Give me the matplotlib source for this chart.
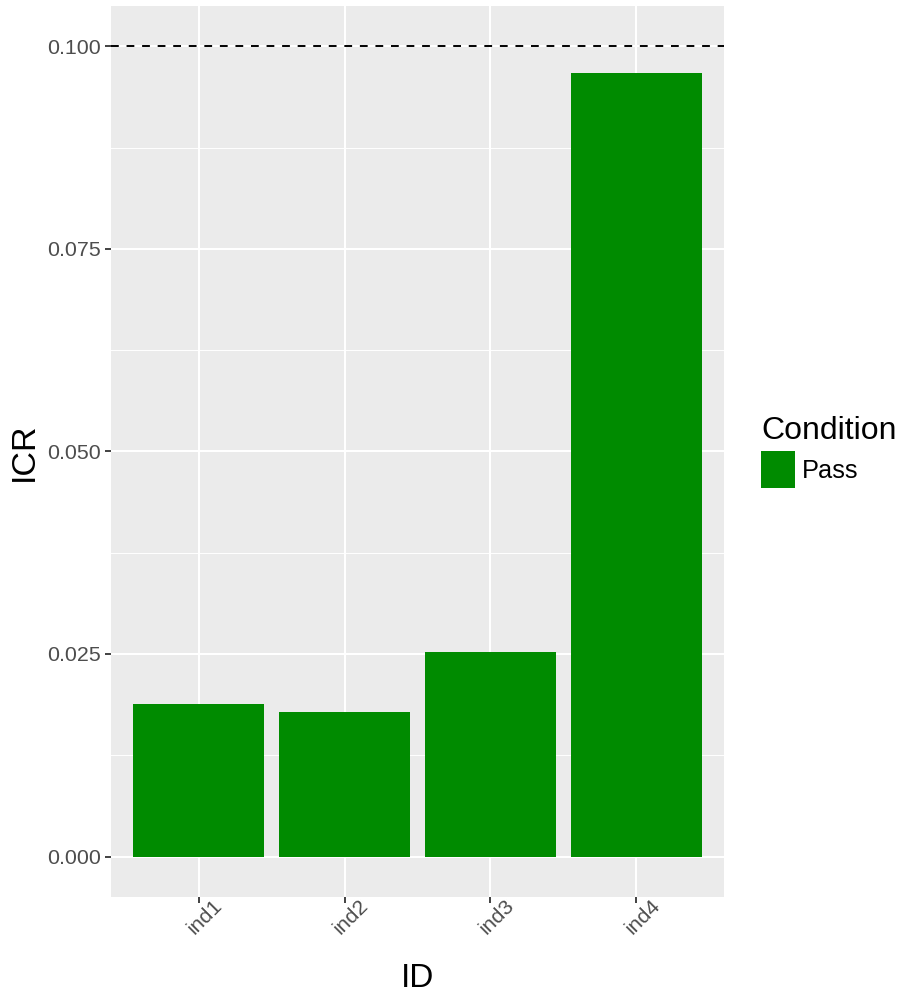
import matplotlib
matplotlib.use("Agg")
import matplotlib.pyplot as plt
from matplotlib.patches import Patch
import numpy as np

ids = ["ind1", "ind2", "ind3", "ind4"]
icr = [0.0188, 0.0179, 0.0252, 0.0967]
condition = "Pass"
threshold = 0.100
yticks = [0.000, 0.025, 0.050, 0.075, 0.100]
ytick_labels = ["0.000", "0.025", "0.050", "0.075", "0.100"]

plt.rcParams['font.family'] = ['Liberation Sans', 'DejaVu Sans']

fig = plt.figure(figsize=(8.97, 9.94), dpi=100)
ax = fig.add_axes([111/897, 1-897/994, (724-111)/897, (897-6)/994])
ax.set_facecolor("#EBEBEB")
for s in ax.spines.values():
    s.set_visible(False)

x = np.arange(1, len(ids)+1)
ax.bar(x, icr, width=0.9, color="#008B00", zorder=3)
ax.axhline(threshold, color="black", linestyle=(0, (4, 4)), linewidth=1.4, zorder=4)

ax.set_xlim(0.4, 4.6)
ax.set_ylim(-0.005, 0.105)
ax.set_xticks(x)
ax.set_xticklabels(ids, rotation=45, ha="center", va="top", rotation_mode="anchor")
ax.set_yticks(yticks)
ax.set_yticklabels(ytick_labels)
ax.set_yticks([0.0125, 0.0375, 0.0625, 0.0875], minor=True)
ax.grid(True, which="major", color="white", linewidth=1.5, zorder=0)
ax.grid(True, which="minor", axis="y", color="white", linewidth=0.7, zorder=0)
ax.set_axisbelow(True)
ax.tick_params(axis="both", which="major", length=4, width=1.3, color="#333333",
               labelcolor="#4D4D4D", labelsize=15.4)
ax.tick_params(axis="x", pad=5.4)
ax.tick_params(axis="y", which="minor", length=0)

ax.set_xlabel("ID", fontsize=24)
ax.xaxis.set_label_coords(0.5, -0.074)
ax.set_ylabel("ICR", fontsize=24.5, labelpad=5)

handles = [Patch(facecolor="#008B00", edgecolor="none", label=condition)]
leg = fig.legend(handles=handles, title="Condition", loc="upper left",
                 bbox_to_anchor=(761/897, 1-416/994), frameon=False, borderpad=0,
                 borderaxespad=0, labelspacing=0.2,
                 fontsize=18.3, title_fontsize=23, handlelength=1.34, handleheight=1.85,
                 handletextpad=0.25, alignment="left")

fig.savefig("out.png", dpi=100)
